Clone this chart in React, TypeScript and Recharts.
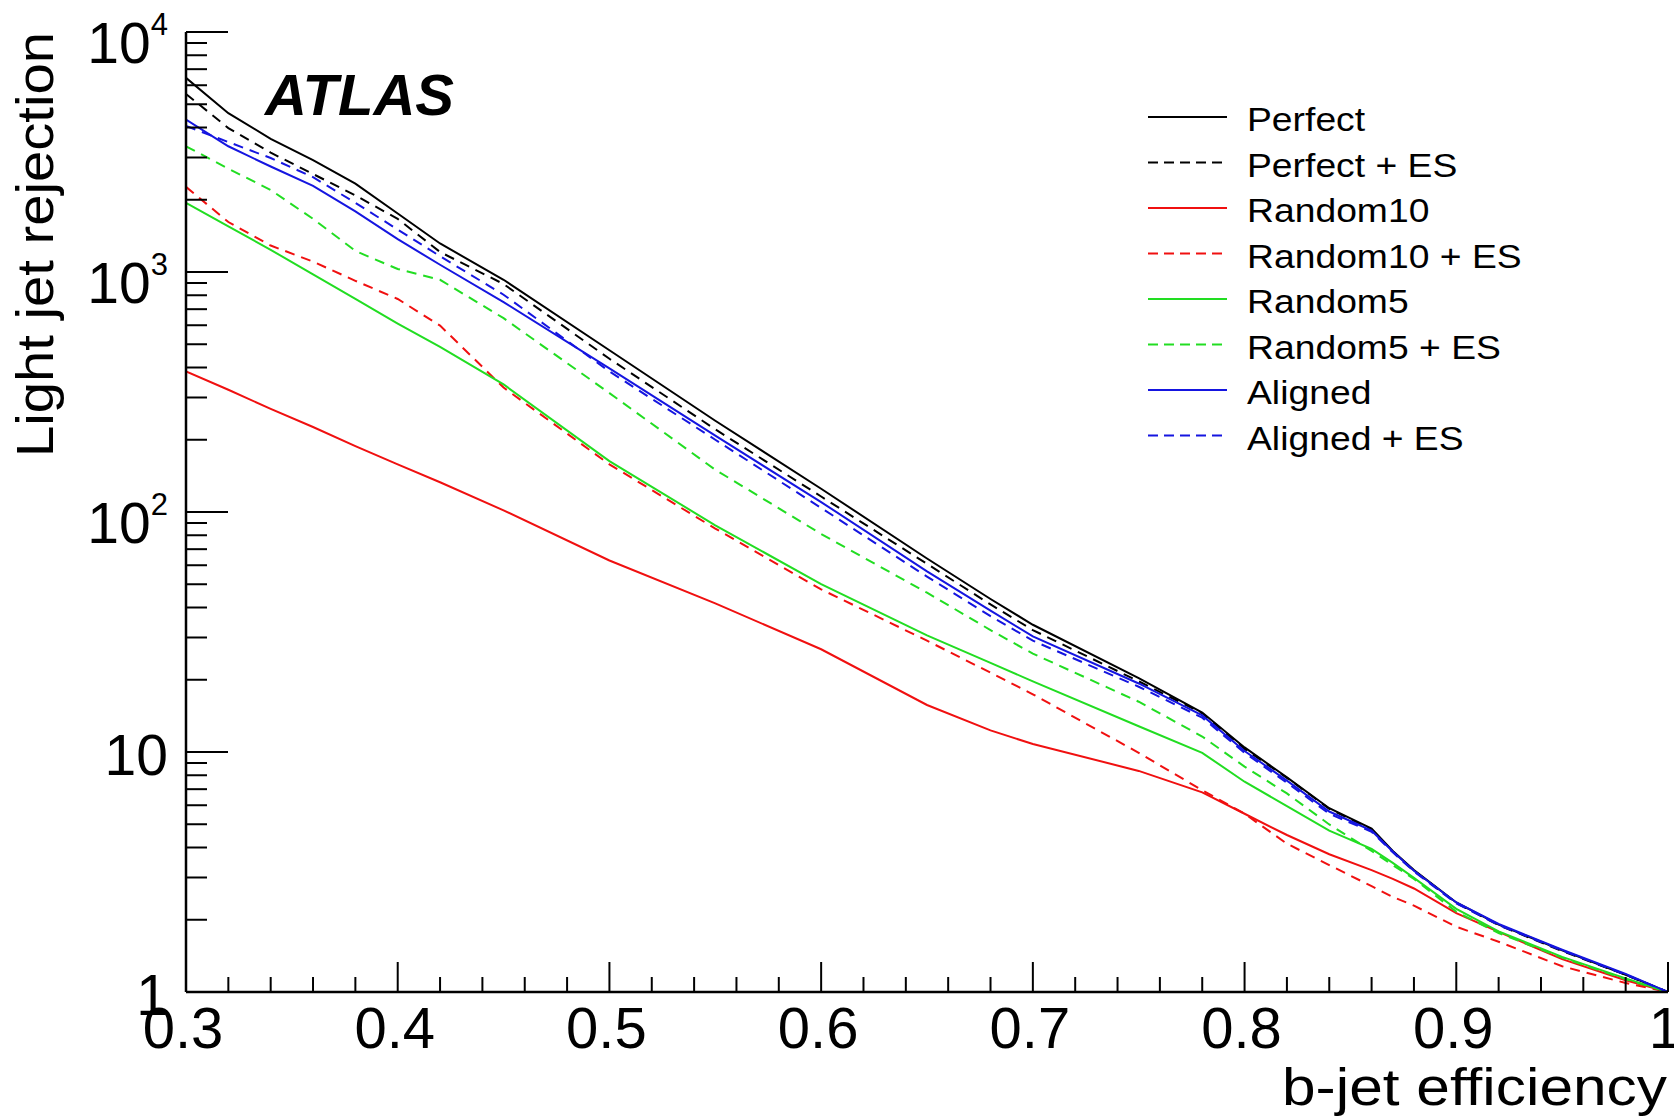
import React from 'react';
import { LineChart, Line, XAxis, YAxis, Legend } from 'recharts';

// ---------- data ----------
const efficiency = [0.30, 0.32, 0.34, 0.36, 0.38, 0.40, 0.42, 0.45, 0.50, 0.55, 0.60, 0.65, 0.68, 0.70, 0.75, 0.78, 0.80, 0.82, 0.84, 0.86, 0.87, 0.88, 0.90, 0.92, 0.95, 0.98, 1.00];

const perfect = [6440, 4590, 3590, 2925, 2335, 1752, 1315, 928, 472, 240, 125, 64.0, 43.4, 33.9, 20.3, 14.6, 10.45, 7.84, 5.83, 4.80, 3.87, 3.22, 2.36, 1.91, 1.49, 1.18, 1.0];
const perfectES = [5521, 3978, 3143, 2560, 2086, 1665, 1212, 891, 435, 221, 116, 60.8, 41.2, 32.2, 19.7, 14.5, 10.3, 7.8, 5.8, 4.75, 3.85, 3.2, 2.35, 1.9, 1.48, 1.18, 1.0];
const random10 = [385, 323, 269, 226, 188, 158, 133, 101.6, 62.8, 41.6, 26.8, 15.7, 12.3, 10.8, 8.34, 6.79, 5.53, 4.51, 3.75, 3.22, 2.96, 2.70, 2.13, 1.78, 1.37, 1.12, 1.0];
const random10ES = [2263, 1615, 1289, 1105, 919, 772, 598, 330, 158, 85.3, 47.6, 29.1, 21.4, 17.4, 9.92, 6.93, 5.53, 4.15, 3.38, 2.76, 2.49, 2.29, 1.87, 1.62, 1.28, 1.09, 1.0];
const random5 = [1942, 1550, 1237, 977, 772, 610, 487, 340, 163, 88.0, 50.1, 30.6, 23.5, 19.7, 12.8, 9.92, 7.52, 5.95, 4.70, 3.95, 3.45, 2.99, 2.22, 1.79, 1.40, 1.14, 1.0];
const random5ES = [3341, 2695, 2196, 1665, 1224, 1029, 928, 642, 313, 150, 81.0, 46.1, 32.2, 25.7, 16.2, 11.6, 8.69, 6.72, 4.99, 3.87, 3.38, 2.96, 2.16, 1.76, 1.39, 1.13, 1.0];
const aligned = [4317, 3341, 2751, 2287, 1788, 1370, 1072, 749, 397, 208, 110, 56.6, 38.8, 30.3, 19.3, 14.2, 10.1, 7.60, 5.65, 4.70, 3.85, 3.2, 2.36, 1.92, 1.5, 1.19, 1.0];
const alignedES = [4060, 3480, 2985, 2483, 1942, 1503, 1163, 804, 385, 200, 104, 53.8, 36.8, 29.1, 18.7, 13.9, 9.92, 7.45, 5.53, 4.65, 3.82, 3.18, 2.34, 1.9, 1.49, 1.18, 1.0];

const seriesKeys = ['perfect', 'perfectES', 'random10', 'random10ES', 'random5', 'random5ES', 'aligned', 'alignedES'];
const seriesNames = ['Perfect', 'Perfect + ES', 'Random10', 'Random10 + ES', 'Random5', 'Random5 + ES', 'Aligned', 'Aligned + ES'];
const seriesValues = [perfect, perfectES, random10, random10ES, random5, random5ES, aligned, alignedES];
const seriesColors = ['#000000', '#000000', '#f01010', '#f01010', '#22dd22', '#22dd22', '#1515e0', '#1515e0'];
const seriesDashed = [false, true, false, true, false, true, false, true];

const xTicks = [0.30, 0.32, 0.34, 0.36, 0.38, 0.40, 0.42, 0.44, 0.46, 0.48, 0.50, 0.52, 0.54, 0.56, 0.58, 0.60, 0.62, 0.64, 0.66, 0.68, 0.70, 0.72, 0.74, 0.76, 0.78, 0.80, 0.82, 0.84, 0.86, 0.88, 0.90, 0.92, 0.94, 0.96, 0.98, 1.00];
const xMajorTicks = [0.3, 0.4, 0.5, 0.6, 0.7, 0.8, 0.9, 1.0];
const xTickLabels = ['0.3', '0.4', '0.5', '0.6', '0.7', '0.8', '0.9', '1'];

const yTicks = [1, 2, 3, 4, 5, 6, 7, 8, 9, 10, 20, 30, 40, 50, 60, 70, 80, 90, 100, 200, 300, 400, 500, 600, 700, 800, 900, 1000, 2000, 3000, 4000, 5000, 6000, 7000, 8000, 9000, 10000];
const yMajorTicks = [1, 10, 100, 1000, 10000];
const yLabelBase = ['1', '10', '10', '10', '10'];
const yLabelExp = ['', '', '2', '3', '4'];

const data = efficiency.map((e, i) => {
  const row: any = { eff: e };
  seriesKeys.forEach((k, s) => { row[k] = seriesValues[s][i]; });
  return row;
});

// ---------- layout ----------
const W = 1674;
const H = 1119;
const PLOT = { left: 186, right: 1668, top: 32, bottom: 992 };
const FONT = '"Liberation Sans", Arial, Helvetica, sans-serif';

const findMajor = (arr: number[], v: number) => arr.findIndex((m) => Math.abs(m - v) < 1e-6 * Math.max(1, m));

const BottomTick = (props: any) => {
  const { x, payload } = props;
  const idx = findMajor(xMajorTicks, payload.value);
  const len = idx >= 0 ? 30 : 15;
  return (
    <g>
      <line x1={x} x2={x} y1={PLOT.bottom} y2={PLOT.bottom - len} stroke="#000" strokeWidth={2} />
      {idx >= 0 && (
        <text x={x - 3} y={PLOT.bottom + 56} textAnchor="middle" fontSize={58} fontFamily={FONT} fill="#000">
          {xTickLabels[idx]}
        </text>
      )}
    </g>
  );
};

const TopTick = (props: any) => {
  const { x, payload } = props;
  const idx = findMajor(xMajorTicks, payload.value);
  const len = idx >= 0 ? 30 : 15;
  return <line x1={x} x2={x} y1={PLOT.top} y2={PLOT.top + len} stroke="#000" strokeWidth={2} />;
};

const LeftTick = (props: any) => {
  const { y, payload } = props;
  const idx = findMajor(yMajorTicks, payload.value);
  const len = idx >= 0 ? 42 : 21;
  const hasExp = idx >= 0 && yLabelExp[idx] !== '';
  return (
    <g>
      <line x1={PLOT.left} x2={PLOT.left + len} y1={y} y2={y} stroke="#000" strokeWidth={2} />
      {idx >= 0 && (
        <text x={168} y={y + (hasExp ? 31 : 23)} textAnchor="end" fontSize={57} fontFamily={FONT} fill="#000">
          <tspan>{yLabelBase[idx]}</tspan>
          {hasExp && <tspan fontSize={31} dy={-28}>{yLabelExp[idx]}</tspan>}
        </text>
      )}
    </g>
  );
};

const RightTick = (props: any) => {
  const { y, payload } = props;
  const idx = findMajor(yMajorTicks, payload.value);
  const len = idx >= 0 ? 42 : 21;
  return <line x1={PLOT.right} x2={PLOT.right - len} y1={y} y2={y} stroke="#000" strokeWidth={2} />;
};

const renderOverlay = (props: any) => {
  const payload: any[] = props && props.payload ? props.payload : [];
  const fromPayload = payload
    .filter((p: any) => seriesNames.indexOf(p.value) >= 0)
    .map((p: any) => {
      const i = seriesNames.indexOf(p.value);
      return { order: i, name: p.value, color: p.color || seriesColors[i], dashed: seriesDashed[i] };
    });
  const items = (fromPayload.length
    ? fromPayload
    : seriesNames.map((n, i) => ({ order: i, name: n, color: seriesColors[i], dashed: seriesDashed[i] })))
    .sort((a, b) => a.order - b.order);
  return (
    <svg width={W} height={H} style={{ position: 'absolute', left: 0, top: 0, overflow: 'visible' }}>
      <text x={265} y={115} fontSize={58} fontWeight="bold" fontStyle="italic" fontFamily={FONT} fill="#000">ATLAS</text>
      {items.map((it, i) => {
        const yy = 117 + i * 45.5;
        return (
          <g key={it.name}>
            <line x1={1148} x2={1227} y1={yy} y2={yy} stroke={it.color} strokeWidth={2} strokeDasharray={it.dashed ? '10 6' : undefined} />
            <text transform={`translate(1247, ${yy + 14}) scale(1.13, 1)`} fontSize={33} fontFamily={FONT} fill="#000">{it.name}</text>
          </g>
        );
      })}
      <text x={1282} y={1105} fontSize={51} fontFamily={FONT} fill="#000" textLength={385} lengthAdjust="spacingAndGlyphs">b-jet efficiency</text>
      <text transform="translate(53, 457) rotate(-90)" fontSize={52} fontFamily={FONT} fill="#000" textLength={425} lengthAdjust="spacingAndGlyphs">Light jet rejection</text>
    </svg>
  );
};

export default function App() {
  return (
    <div style={{ position: 'absolute', left: 0, top: 0, width: W, height: H, background: '#ffffff' }}>
      <LineChart width={W} height={H} data={data} margin={{ top: 32, right: 6, bottom: 0, left: 0 }}>
        <XAxis
          dataKey="eff"
          type="number"
          domain={[0.3, 1]}
          allowDataOverflow
          ticks={xTicks}
          interval={0}
          height={127}
          tickSize={0}
          tickMargin={0}
          tickLine={false}
          axisLine={{ stroke: '#000', strokeWidth: 2.5 }}
          tick={(p: any) => <BottomTick {...p} />}
        />
        <XAxis
          xAxisId="top"
          orientation="top"
          dataKey="eff"
          type="number"
          domain={[0.3, 1]}
          allowDataOverflow
          ticks={xTicks}
          interval={0}
          height={0}
          tickSize={0}
          tickMargin={0}
          tickLine={false}
          axisLine={{ stroke: '#000', strokeWidth: 2.5 }}
          tick={(p: any) => <TopTick {...p} />}
        />
        <YAxis
          type="number"
          scale="log"
          domain={[1, 10000]}
          allowDataOverflow
          ticks={yTicks}
          interval={0}
          width={186}
          tickSize={0}
          tickMargin={0}
          tickLine={false}
          axisLine={{ stroke: '#000', strokeWidth: 2.5 }}
          tick={(p: any) => <LeftTick {...p} />}
        />
        <YAxis
          yAxisId="right"
          orientation="right"
          type="number"
          scale="log"
          domain={[1, 10000]}
          allowDataOverflow
          ticks={yTicks}
          interval={0}
          width={0}
          tickSize={0}
          tickMargin={0}
          tickLine={false}
          axisLine={{ stroke: '#000', strokeWidth: 2.5 }}
          tick={(p: any) => <RightTick {...p} />}
        />
        {seriesKeys.map((k, i) => (
          <Line
            key={k}
            dataKey={k}
            name={seriesNames[i]}
            type="linear"
            stroke={seriesColors[i]}
            strokeWidth={2}
            strokeDasharray={seriesDashed[i] ? '10 7' : undefined}
            dot={false}
            activeDot={false}
            isAnimationActive={false}
          />
        ))}
        <Legend
          layout="vertical"
          align="center"
          verticalAlign="middle"
          content={renderOverlay}
          wrapperStyle={{ position: 'absolute', left: 0, top: 0, width: W, height: H, pointerEvents: 'none' }}
        />
      </LineChart>
    </div>
  );
}
